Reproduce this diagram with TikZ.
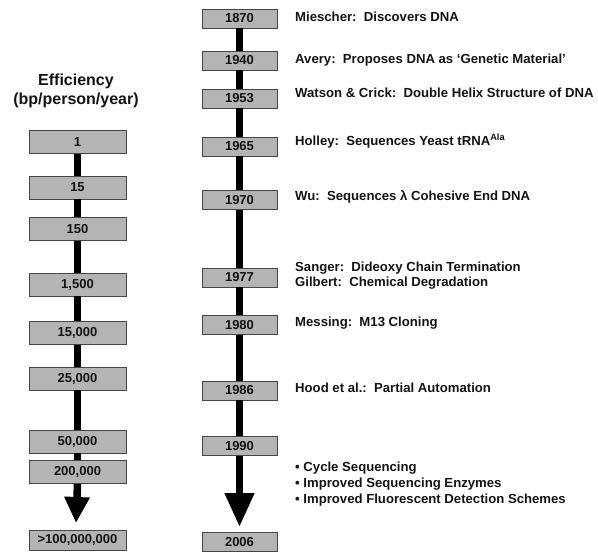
\documentclass[tikz,border=0pt]{standalone}
\usepackage{fontspec}
\setmainfont{Liberation Sans}
\usetikzlibrary{arrows.meta}
\definecolor{boxgray}{RGB}{180,180,180}
\definecolor{boxline}{RGB}{70,70,70}
\definecolor{ink}{RGB}{20,20,20}
\newcommand{\lowr}[1]{\raisebox{-2pt}{#1}}
\tikzset{
  lbox/.style={draw=boxline, line width=0.8pt, fill=boxgray, minimum width=97pt, minimum height=23pt, inner sep=0pt, text=ink, font=\bfseries\fontsize{13}{15}\selectfont},
  rbox/.style={draw=boxline, line width=0.8pt, fill=boxgray, minimum width=75pt, minimum height=19pt, inner sep=0pt, text=ink, font=\bfseries\fontsize{13}{15}\selectfont},
  shaft/.style={line width=7.5pt, black},
  evt/.style={anchor=west, inner sep=0pt, text=ink, font=\bfseries\fontsize{13.15}{15}\selectfont},
  ttl/.style={inner sep=0pt, text=ink, font=\bfseries\fontsize{16}{19}\selectfont}
}
\begin{document}
\begin{tikzpicture}[x=1pt,y=1pt]
\useasboundingbox[fill=white] (0,0) rectangle (598,-552);
% title
\node[ttl] (t1) at (76,-81) {Efficiency};
\node[ttl] (t2) at (76,-100) {(bp/person/year)};
% left column
\node[lbox] (e1) at (77.5,-142) {1};
\node[lbox] (e2) at (77.5,-187.5) {15};
\node[lbox] (e3) at (77.5,-229) {150};
\node[lbox] (e4) at (77.5,-284.5) {\lowr{1,500}};
\node[lbox] (e5) at (77.5,-333) {15,000};
\node[lbox] (e6) at (77.5,-378.5) {25,000};
\node[lbox] (e7) at (77.5,-441.5) {50,000};
\node[lbox] (e8) at (77.5,-472) {200,000};
\node[lbox, minimum height=20pt] (e9) at (77.5,-540) {\lowr{>100,000,000}};
\coordinate (etip) at (76,-523);
\draw[shaft] (e1.south) -- (e2.north);
\draw[shaft] (e2.south) -- (e3.north);
\draw[shaft] (e3.south) -- (e4.north);
\draw[shaft] (e4.south) -- (e5.north);
\draw[shaft] (e5.south) -- (e6.north);
\draw[shaft] (e6.south) -- (e7.north);
\draw[shaft] (e7.south) -- (e8.north);
\draw[shaft, -{Triangle[width=24pt,length=26pt]}] (e8.south) -- (etip);
% right column
\node[rbox] (y1) at (239.5,-18.5) {1870};
\node[rbox] (y2) at (239.5,-60.5) {\lowr{1940}};
\node[rbox] (y3) at (239.5,-98.5) {\lowr{1953}};
\node[rbox] (y4) at (239.5,-146.5) {\lowr{1965}};
\node[rbox] (y5) at (239.5,-200) {\lowr{1970}};
\node[rbox] (y6) at (239.5,-277.5) {\lowr{1977}};
\node[rbox] (y7) at (239.5,-325) {1980};
\node[rbox] (y8) at (239.5,-390.5) {\lowr{1986}};
\node[rbox] (y9) at (239.5,-446) {1990};
\node[rbox] (y10) at (239.5,-542) {2006};
\coordinate (ytip) at (239.5,-527);
\draw[shaft] (y1.south) -- (y2.north);
\draw[shaft] (y2.south) -- (y3.north);
\draw[shaft] (y3.south) -- (y4.north);
\draw[shaft] (y4.south) -- (y5.north);
\draw[shaft] (y5.south) -- (y6.north);
\draw[shaft] (y6.south) -- (y7.north);
\draw[shaft] (y7.south) -- (y8.north);
\draw[shaft] (y8.south) -- (y9.north);
\draw[shaft, -{Triangle[width=28pt,length=34pt]}] (y9.south) -- (ytip);
% events
\node[evt] (m1) at (295,-17) {Miescher:\ \ Discovers DNA};
\node[evt] (m2) at (295,-60) {Avery:\ \ Proposes DNA as ‘Genetic Material’};
\node[evt] (m3) at (295,-93) {Watson \& Crick:\ \ Double Helix Structure of DNA};
\node[evt] (m4) at (295,-141) {Holley:\ \ Sequences Yeast tRNA\textsuperscript{Ala}};
\node[evt] (m5) at (295,-197) {Wu:\ \ Sequences λ Cohesive End DNA};
\node[evt] (m6) at (295,-268) {Sanger:\ \ Dideoxy Chain Termination};
\node[evt] (m7) at (295,-283) {Gilbert:\ \ Chemical Degradation};
\node[evt] (m8) at (295,-323) {Messing:\ \ M13 Cloning};
\node[evt] (m9) at (295,-388) {Hood et al.:\ \ Partial Automation};
\node[evt] (b1) at (295,-468) {• Cycle Sequencing};
\node[evt] (b2) at (295,-484) {• Improved Sequencing Enzymes};
\node[evt] (b3) at (295,-500) {• Improved Fluorescent Detection Schemes};
\end{tikzpicture}
\end{document}
